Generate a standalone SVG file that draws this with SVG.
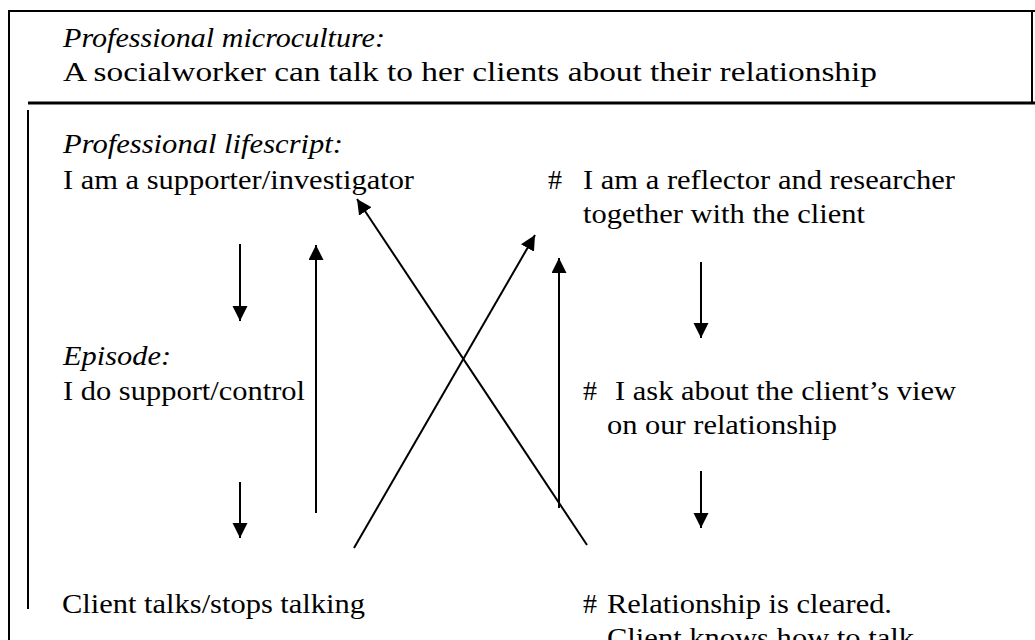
<svg xmlns="http://www.w3.org/2000/svg" width="1035" height="640" viewBox="0 0 1035 640">
<defs>
<style>
.t{font-size:28px;fill:#000}
.i{font-style:italic}
.ln{stroke:#000;stroke-width:2;fill:none}
.ar{stroke:#000;stroke-width:2;fill:none;marker-end:url(#ah)}
</style>
<marker id="ah" markerUnits="userSpaceOnUse" markerWidth="16" markerHeight="16" refX="15" refY="7.5" orient="auto">
<path d="M0,0 L15,7.5 L0,15 z" fill="#000"/>
</marker>
</defs>
<rect width="1035" height="640" fill="#fff"/>
<g id="frame">
<line class="ln" x1="9" y1="11" x2="1035" y2="11"/>
<line class="ln" x1="9" y1="10" x2="9" y2="640"/>
<line class="ln" x1="1032" y1="11" x2="1032" y2="103"/>
<line x1="28" y1="103" x2="1035" y2="103" stroke="#000" stroke-width="3"/>
<line class="ln" x1="28" y1="110" x2="28" y2="609"/>
</g>
<g font-family="Liberation Serif, serif">
<g id="microculture">
<text class="t i" x="63" y="47" textLength="322" lengthAdjust="spacingAndGlyphs">Professional microculture:</text>
<text class="t" x="63" y="81" textLength="814" lengthAdjust="spacingAndGlyphs">A socialworker can talk to her clients about their relationship</text>
</g>
<g id="lifescript">
<text class="t i" x="63" y="153" textLength="280" lengthAdjust="spacingAndGlyphs">Professional lifescript:</text>
<text class="t" x="63" y="189" textLength="351" lengthAdjust="spacingAndGlyphs">I am a supporter/investigator</text>
</g>
<g id="reflector">
<text class="t" x="548" y="189">#</text>
<text class="t" x="583" y="189" textLength="372" lengthAdjust="spacingAndGlyphs">I am a reflector and researcher</text>
<text class="t" x="583" y="223" textLength="282" lengthAdjust="spacingAndGlyphs">together with the client</text>
</g>
<g id="episode">
<text class="t i" x="63" y="365" textLength="108" lengthAdjust="spacingAndGlyphs">Episode:</text>
<text class="t" x="63" y="400" textLength="242" lengthAdjust="spacingAndGlyphs">I do support/control</text>
</g>
<g id="ask">
<text class="t" x="583" y="400">#</text>
<text class="t" x="615" y="400" textLength="341" lengthAdjust="spacingAndGlyphs">I ask about the client’s view</text>
<text class="t" x="607" y="434" textLength="230" lengthAdjust="spacingAndGlyphs">on our relationship</text>
</g>
<g id="client">
<text class="t" x="62" y="613" textLength="303" lengthAdjust="spacingAndGlyphs">Client talks/stops talking</text>
</g>
<g id="cleared">
<text class="t" x="583" y="613">#</text>
<text class="t" x="607" y="613" textLength="285" lengthAdjust="spacingAndGlyphs">Relationship is cleared.</text>
<text class="t" x="607" y="647" textLength="307" lengthAdjust="spacingAndGlyphs">Client knows how to talk</text>
</g>
</g>
<g id="connectors">
<line class="ar" x1="240" y1="244" x2="240" y2="321"/>
<line class="ar" x1="240" y1="482" x2="240" y2="538"/>
<line class="ar" x1="316" y1="513" x2="316" y2="245"/>
<line class="ar" x1="559" y1="508" x2="559" y2="258"/>
<line class="ar" x1="701" y1="262" x2="701" y2="338"/>
<line class="ar" x1="701" y1="471" x2="701" y2="528"/>
<line class="ar" x1="587" y1="545" x2="357" y2="199"/>
<line class="ar" x1="354" y1="548" x2="535" y2="235"/>
</g>
</svg>
